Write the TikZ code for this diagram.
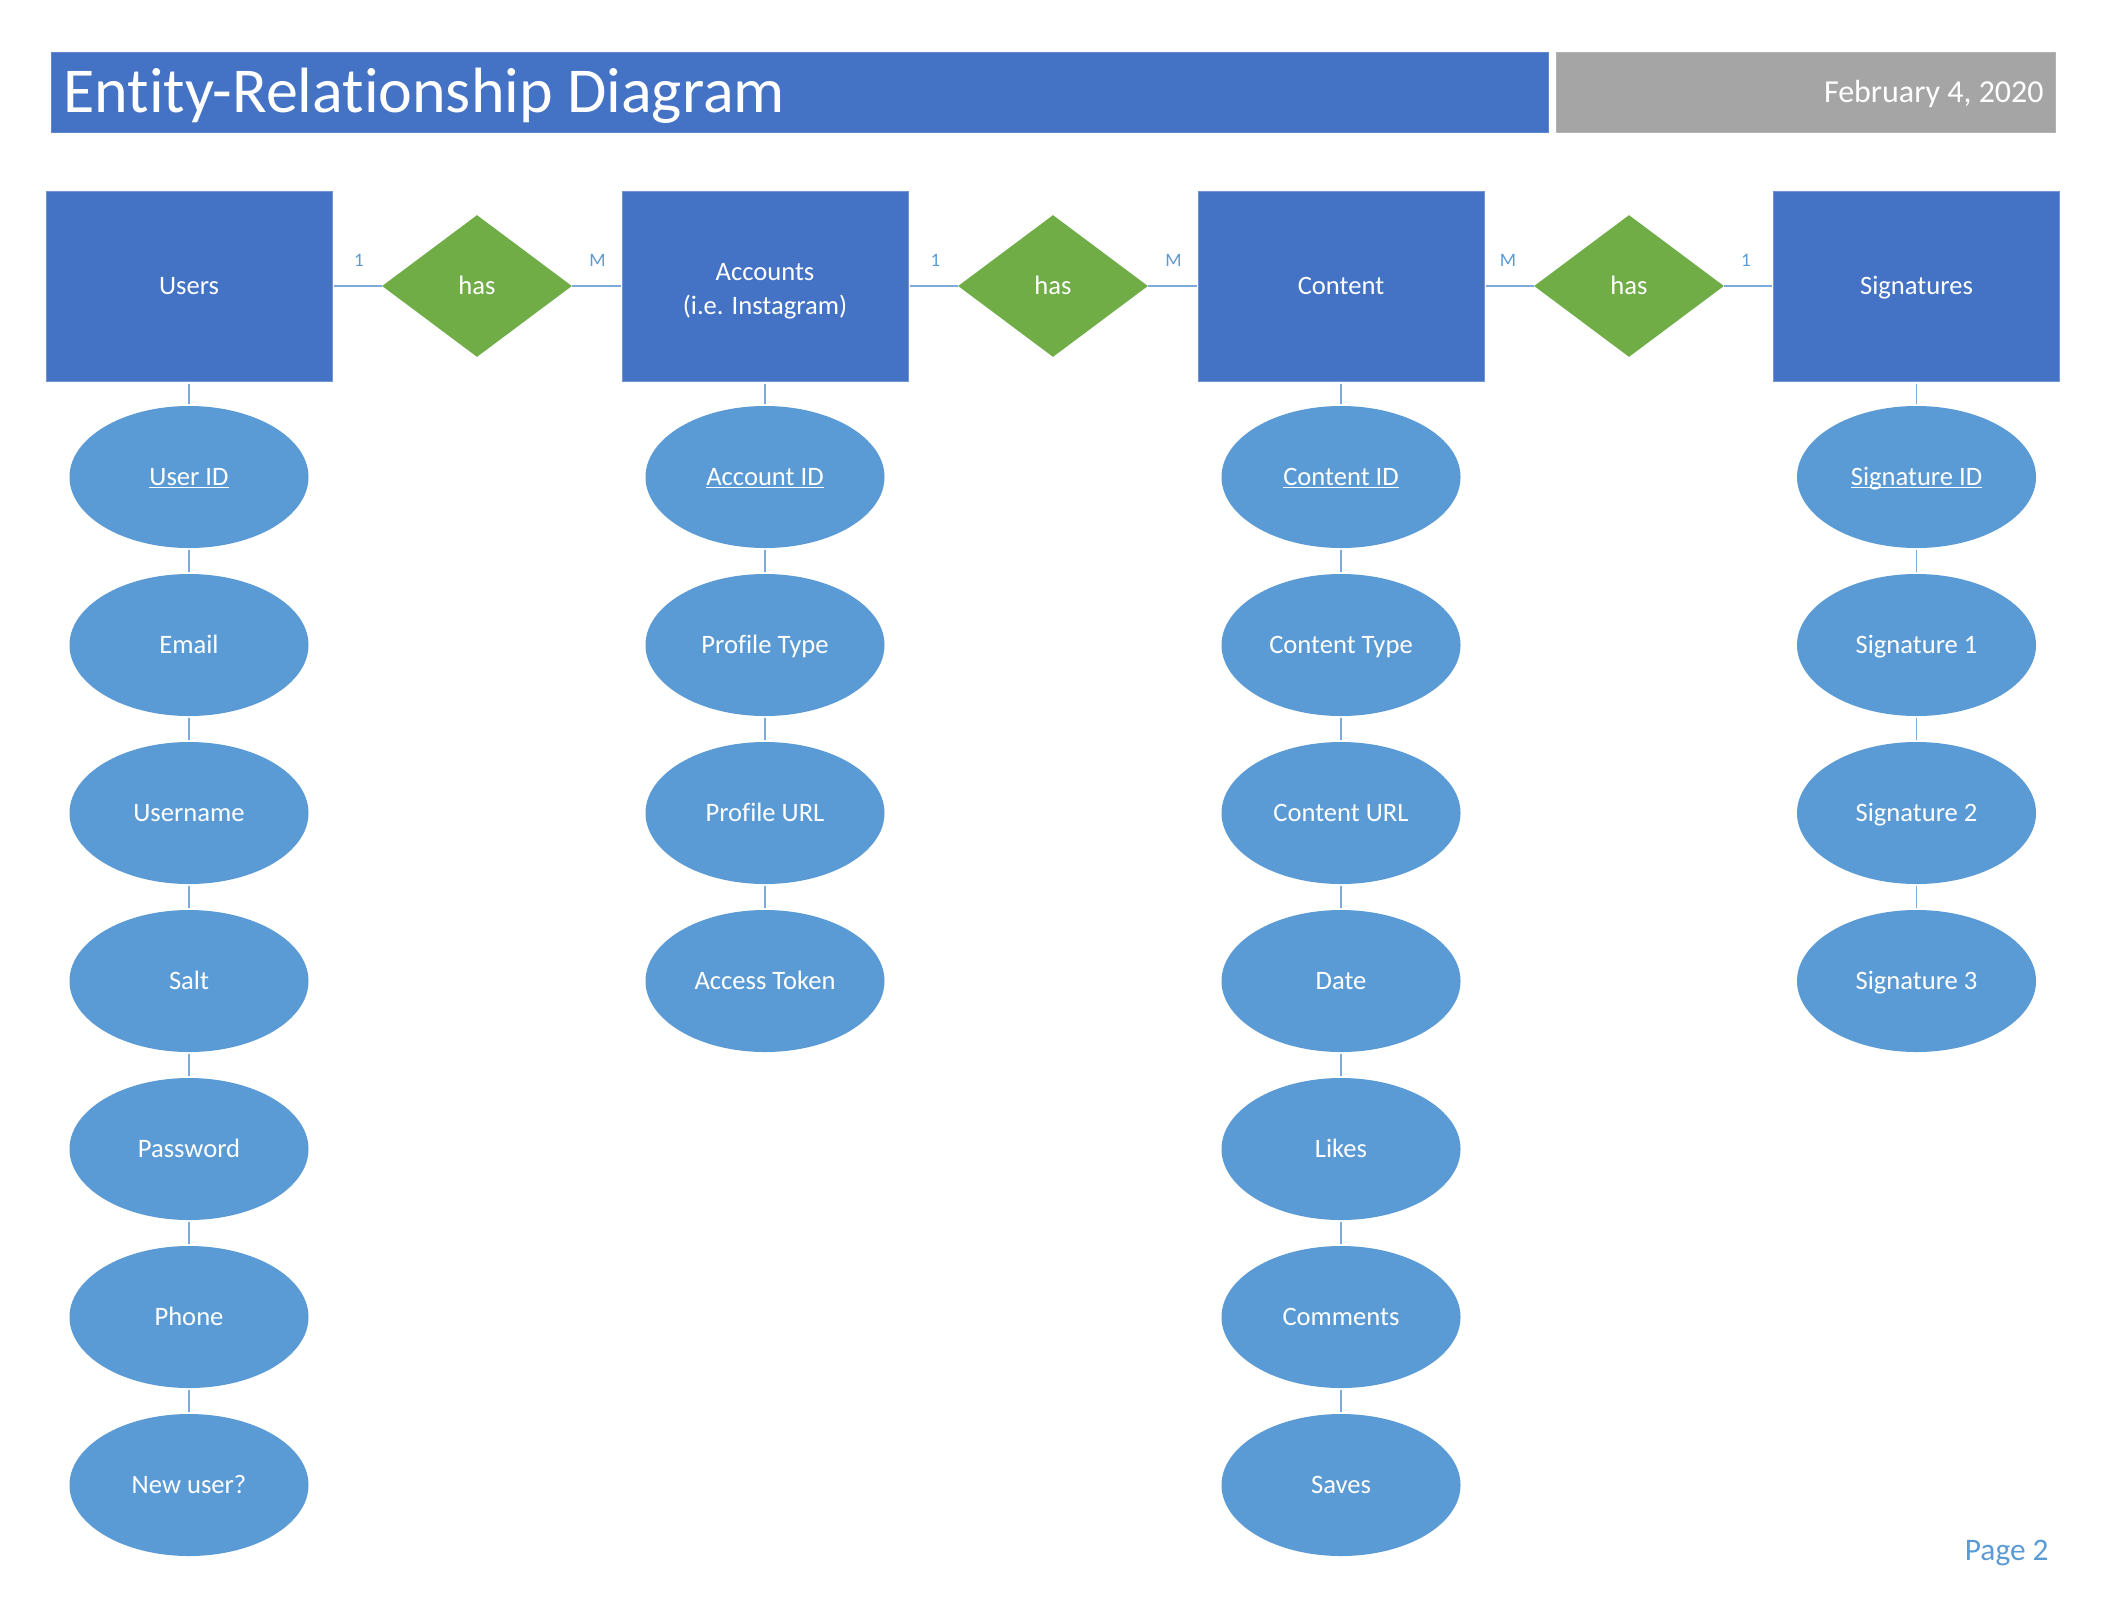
\documentclass[tikz,border=0pt]{standalone}
\usepackage{fontspec}
\setmainfont[Ligatures={NoCommon}]{Carlito}
\usetikzlibrary{shapes.geometric}
\definecolor{entblue}{HTML}{4472C4}
\definecolor{attblue}{HTML}{5B9BD5}
\definecolor{relgreen}{HTML}{70AD47}
\definecolor{hdrgray}{HTML}{A5A5A5}
\definecolor{linkblue}{HTML}{7FAADF}
\definecolor{lblblue}{HTML}{5B9BD5}
\newcommand{\ulkey}[1]{\leavevmode\setbox0\hbox{#1}\rlap{\rule[-1.4pt]{\wd0}{0.6pt}}\box0}
\begin{document}
\begin{tikzpicture}[x=0.5pt,y=-0.5pt,
  entity/.style={rectangle, fill=entblue, draw=entblue!75!white, line width=0.5pt,
    minimum width=143pt, minimum height=95pt, inner sep=0pt, text=white,
    font=\fontsize{13.3}{17}\selectfont, align=center, text height=0.84em, text depth=0em},
  rel/.style={diamond, fill=relgreen, minimum width=95pt, minimum height=71pt,
    inner sep=0pt, text=white, font=\fontsize{13.3}{16}\selectfont, text height=0.84em, text depth=0em},
  attr/.style={ellipse, fill=attblue, minimum width=119.5pt, minimum height=71pt,
    inner sep=0pt, text=white, font=\fontsize{13.3}{16}\selectfont, text height=0.84em, text depth=0em},
  link/.style={draw=linkblue, line width=0.9pt},
  vlink/.style={link, shorten <=1pt, shorten >=1pt},
  card/.style={text=lblblue, font=\fontsize{9.5}{11}\selectfont, inner sep=0pt},
  bar/.style={rectangle, inner sep=0pt, minimum height=40pt, draw=#1!85!white, line width=0.5pt, fill=#1}
]
\fill[white] (0,0) rectangle (2107,1623);
\useasboundingbox (0,0) rectangle (2107,1623);

% header
\node[bar=entblue, minimum width=748.5pt] (titlebar) at (799.5,92) {};
\node[bar=hdrgray, minimum width=249.5pt] (datebar) at (1805.5,92) {};
\node[anchor=base west, inner sep=0pt, text=white, font=\fontsize{32}{38}\selectfont] (ttl) at (63,112) {Entity-Relationship Diagram};
\node[anchor=base east, inner sep=0pt, text=white, font=\fontsize{16}{19}\selectfont] (date) at (2044,102) {February 4, 2020};

% entities
\node[entity] (users) at (189,286) {Users};
\node[entity, text height=28.2pt, text depth=0pt] (accounts) at (765,286) {Accounts\\(i.e. Instagram)};
\node[entity] (content) at (1341,286) {Content};
\node[entity] (sigs) at (1916.5,286) {Signatures};

% relationships
\node[rel] (r1) at (477,286) {has};
\node[rel] (r2) at (1053,286) {has};
\node[rel] (r3) at (1629,286) {has};

\draw[link, shorten <=0.5pt] (users.east) -- (r1.west);
\draw[link, shorten >=0.5pt] (r1.east) -- (accounts.west);
\draw[link, shorten <=0.5pt] (accounts.east) -- (r2.west);
\draw[link, shorten >=0.5pt] (r2.east) -- (content.west);
\draw[link, shorten <=0.5pt] (content.east) -- (r3.west);
\draw[link, shorten >=0.5pt] (r3.east) -- (sigs.west);

% cardinalities
\node[card] (c1) at (359,260) {1};
\node[card] (c2) at (597.5,260) {M};
\node[card] (c3) at (935.5,260) {1};
\node[card] (c4) at (1173.5,260) {M};
\node[card] (c5) at (1508,260) {M};
\node[card] (c6) at (1746,260) {1};

% attributes: Users
\foreach \t [count=\i] in {\ulkey{User ID},Email,Username,Salt,Password,Phone,New user?}
  \node[attr] (u\i) at (189,{477+168*(\i-1)}) {\t};
\draw[vlink] (users.south) -- (u1.north);
\foreach \i [evaluate=\i as \j using int(\i+1)] in {1,...,6}
  \draw[vlink] (u\i.south) -- (u\j.north);

% attributes: Accounts
\foreach \t [count=\i] in {\ulkey{Account ID},Profile Type,Profile URL,Access Token}
  \node[attr] (a\i) at (765,{477+168*(\i-1)}) {\t};
\draw[vlink] (accounts.south) -- (a1.north);
\foreach \i [evaluate=\i as \j using int(\i+1)] in {1,...,3}
  \draw[vlink] (a\i.south) -- (a\j.north);

% attributes: Content
\foreach \t [count=\i] in {\ulkey{Content ID},Content Type,Content URL,Date,Likes,Comments,Saves}
  \node[attr] (k\i) at (1341,{477+168*(\i-1)}) {\t};
\draw[vlink] (content.south) -- (k1.north);
\foreach \i [evaluate=\i as \j using int(\i+1)] in {1,...,6}
  \draw[vlink] (k\i.south) -- (k\j.north);

% attributes: Signatures
\foreach \t [count=\i] in {\ulkey{Signature ID},Signature 1,Signature 2,Signature 3}
  \node[attr] (s\i) at (1916.5,{477+168*(\i-1)}) {\t};
\draw[vlink] (sigs.south) -- (s1.north);
\foreach \i [evaluate=\i as \j using int(\i+1)] in {1,...,3}
  \draw[vlink] (s\i.south) -- (s\j.north);

% page number
\node[anchor=base east, inner sep=0pt, text=lblblue, font=\fontsize{15.7}{19}\selectfont] (page) at (2049,1560) {Page 2};
\end{tikzpicture}
\end{document}
